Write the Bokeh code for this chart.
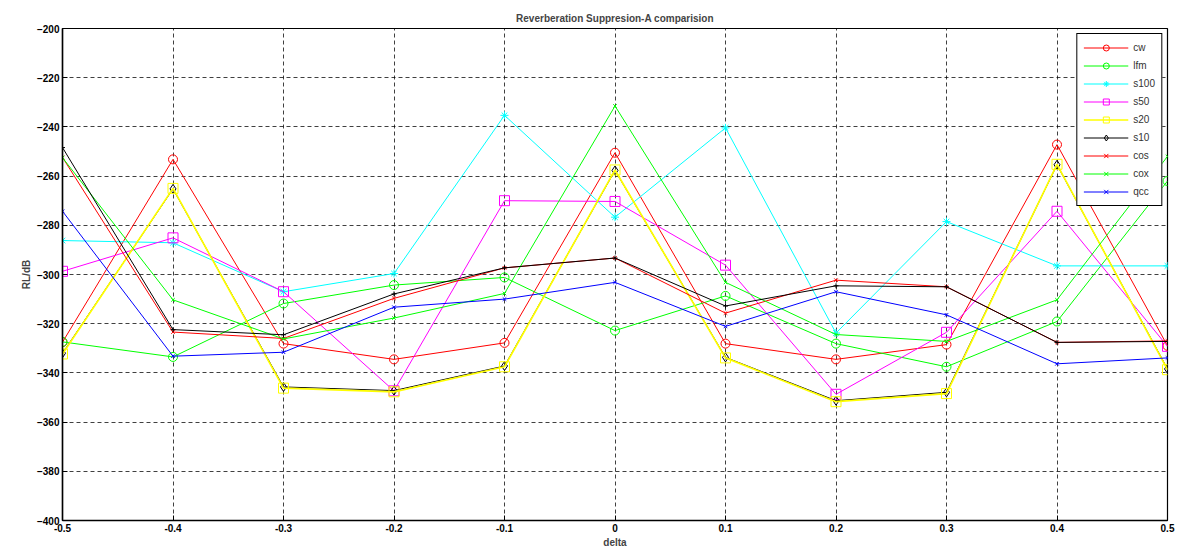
from bokeh.plotting import figure
from bokeh.models import Range1d, FixedTicker, CustomJSTickFormatter, Legend, LegendItem
from bokeh.embed import file_html
from bokeh.resources import INLINE

# ---- data ----
delta = [-0.5, -0.4, -0.3, -0.2, -0.1, 0.0, 0.1, 0.2, 0.3, 0.4, 0.5]
cw   = [-327.5, -253.2, -328.1, -334.5, -327.8, -250.5, -328.1, -334.5, -328.5, -247.2, -329.0]
lfm  = [-327.4, -333.5, -311.8, -304.3, -301.2, -322.8, -308.7, -328.1, -337.5, -319.1, -262.0]
s100 = [-286.2, -287.1, -307.0, -299.6, -235.3, -276.7, -240.4, -323.8, -278.5, -296.5, -296.5]
s50  = [-298.7, -285.1, -307.0, -347.3, -270.0, -270.3, -296.2, -348.7, -323.5, -274.3, -329.2]
s20  = [-332.3, -265.0, -346.2, -347.7, -337.5, -257.5, -333.9, -351.7, -348.4, -255.2, -338.7]
s10  = [-332.0, -265.2, -345.7, -347.2, -337.2, -257.7, -333.7, -351.3, -347.9, -255.4, -338.4]
cos  = [-252.4, -323.4, -326.0, -309.7, -297.3, -293.3, -315.7, -302.3, -305.0, -327.6, -327.0]
cox  = [-252.5, -310.3, -326.2, -317.7, -307.7, -231.5, -303.2, -324.4, -327.2, -310.3, -252.0]
qcc  = [-274.3, -333.2, -331.6, -313.3, -310.0, -303.2, -321.1, -307.0, -316.4, -336.3, -333.9]
extra = [-248.4, -322.4, -324.5, -307.9, -297.3, -293.3, -312.8, -304.6, -305.0, -327.6, -327.2]

x_ticks = [-0.5, -0.4, -0.3, -0.2, -0.1, 0.0, 0.1, 0.2, 0.3, 0.4, 0.5]
y_ticks = [-400, -380, -360, -340, -320, -300, -280, -260, -240, -220, -200]

FONT = "Liberation Sans"

p = figure(width=1176, height=550, output_backend="svg", toolbar_location=None,
           x_range=Range1d(-0.5, 0.5), y_range=Range1d(-400, -200),
           title="Reverberation Suppresion-A comparision",
           min_border_left=62, min_border_right=9, min_border_top=28, min_border_bottom=26)

p.title.align = "center"
p.title.text_font = FONT
p.title.text_font_size = "10px"
p.title.text_font_style = "bold"
p.title.offset = 0

p.outline_line_color = "black"
p.outline_line_width = 1.2
p.outline_line_alpha = 1

for ax in (p.xaxis[0], p.yaxis[0]):
    ax.axis_line_color = "black"
    ax.axis_line_width = 1.5
    ax.major_tick_in = 5
    ax.major_tick_out = 0
    ax.minor_tick_line_color = None
    ax.major_tick_line_color = "black"
    ax.major_label_text_font = FONT
    ax.major_label_text_font_size = "10px"
    ax.major_label_text_font_style = "bold"
    ax.major_label_text_color = "black"
    ax.axis_label_text_font = FONT
    ax.axis_label_text_font_size = "10px"
    ax.axis_label_text_font_style = "bold"
    ax.major_label_standoff = 3
    ax.axis_label_standoff = 2

p.xaxis.ticker = FixedTicker(ticks=x_ticks)
p.yaxis.ticker = FixedTicker(ticks=y_ticks)
p.xaxis.formatter = CustomJSTickFormatter(code="const v = Math.round(tick*10)/10; return v == 0 ? '0' : v.toString();")
p.xaxis.axis_label = "delta"
p.yaxis.axis_label = "RL/dB"

for g in (p.xgrid[0], p.ygrid[0]):
    g.grid_line_color = "black"
    g.grid_line_alpha = 0.75
    g.grid_line_dash = "4 3"
    g.grid_line_width = 1

def series(ys, color, marker, size, lw=1.0):
    r1 = p.line(delta, ys, line_color=color, line_width=lw)
    r2 = p.scatter(delta, ys, marker=marker, size=size, line_color=color, line_width=1,
                   fill_color=None)
    return r1, r2

r_cw = series(cw, "#ff0000", "circle", 9)
r_lfm = series(lfm, "#00ff00", "circle", 9)
r_s100 = series(s100, "#00ffff", "asterisk", 8)
r_s50 = series(s50, "#ff00ff", "square", 10)
# s10 lies almost exactly beneath s20
r_s10 = series(s10, "black", "diamond", 9)
r_s20 = series(s20, "#ffff00", "square", 10, lw=1.7)
r_cos = series(cos, "#ff0000", "x", 5)
r_cox = series(cox, "#00ff00", "x", 5)
r_qcc = series(qcc, "#0000ff", "x", 5)
series(extra, "black", "cross", 5)

items = [("cw", r_cw), ("lfm", r_lfm), ("s100", r_s100), ("s50", r_s50),
         ("s20", r_s20), ("s10", r_s10), ("cos", r_cos), ("cox", r_cox), ("qcc", r_qcc)]

legend = Legend(items=[LegendItem(label=l, renderers=list(r)) for l, r in items],
                location="top_right")
legend.margin = 5
legend.border_line_color = "black"
legend.border_line_width = 1
legend.border_line_alpha = 1
legend.background_fill_color = "white"
legend.background_fill_alpha = 1
legend.label_text_font = FONT
legend.label_text_font_size = "10px"
legend.label_text_color = "#333333"
legend.glyph_width = 45
legend.glyph_height = 15
legend.label_height = 15
legend.spacing = 3
legend.padding = 6
legend.label_standoff = 5
p.add_layout(legend)

open("out.html", "w").write(file_html(p, INLINE))
